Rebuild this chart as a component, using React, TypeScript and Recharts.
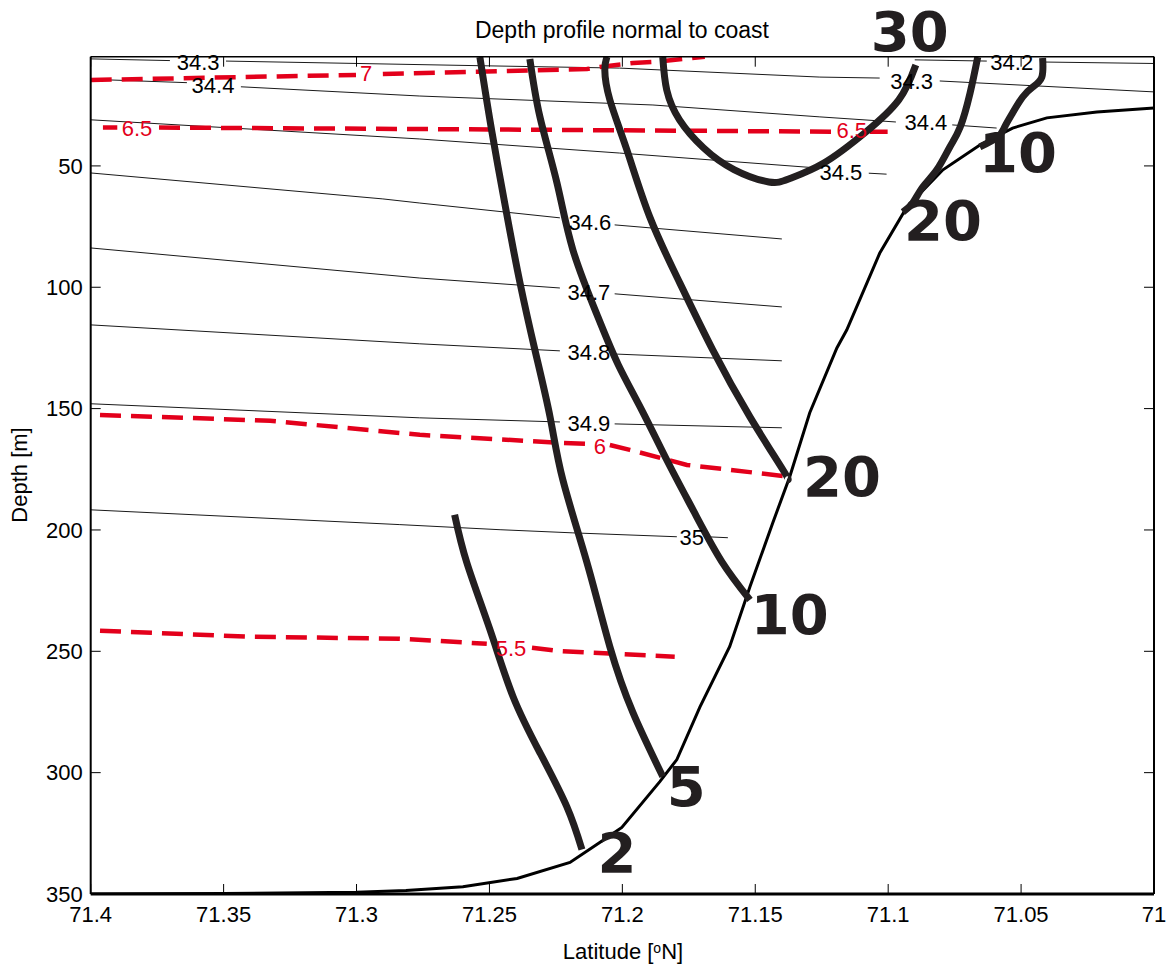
import {
  ComposedChart,
  Line,
  ReferenceDot,
  XAxis,
  YAxis,
} from "recharts";

type Pt = [number, number]; // [latitude, depth]

const LAT_TICKS = [71.4, 71.35, 71.3, 71.25, 71.2, 71.15, 71.1, 71.05, 71];
const DEPTH_TICKS = [50, 100, 150, 200, 250, 300, 350];

// sea floor
const seabed: Pt[] = [
  [71.4, 350], [71.35, 349.8], [71.3, 349.3], [71.2814, 348.6], [71.26, 347],
  [71.2396, 343.6], [71.2197, 337], [71.2085, 328.8], [71.2002, 322.6],
  [71.1859, 303.7], [71.1795, 294.6], [71.1708, 272.9], [71.1596, 248],
  [71.152, 223.4], [71.1434, 197], [71.137, 178], [71.1295, 151.7],
  [71.1193, 125], [71.1156, 117.6], [71.1032, 86], [71.093, 67],
  [71.0794, 51.6], [71.0655, 41.4], [71.0532, 34.4], [71.0403, 30.2],
  [71.0215, 27.8], [71.0, 26.1],
];

// salinity contours (thin), split where the label sits
const sal342: Pt[][] = [
  [[71.09, 6.3], [71.0629, 6.8]],
  [[71.0411, 7.2], [71.0, 7.8]],
];
const sal343: Pt[][] = [
  [[71.4, 5.9], [71.3702, 6.6]],
  [[71.3491, 6.8], [71.2543, 8.7], [71.201, 9.7], [71.1257, 13.4], [71.1032, 13.8]],
  [[71.0806, 15], [71.0, 19.5]],
];
const sal344: Pt[][] = [
  [[71.4, 14.3], [71.3638, 15.7]],
  [[71.3435, 17.4], [71.2762, 21.2], [71.1885, 24.9], [71.1257, 29.8], [71.0971, 31.9]],
  [[71.0759, 33.1], [71.0592, 34.4]],
];
const sal345: Pt[][] = [
  [[71.4, 31], [71.2762, 38.9], [71.201, 44.7], [71.1272, 50.8]],
  [[71.1073, 53], [71.1006, 53.4]],
];
const sal346: Pt[][] = [
  [[71.4, 52.9], [71.2901, 63.6], [71.2762, 65.3], [71.2235, 71.4]],
  [[71.2029, 74.3], [71.14, 80.1]],
];
const sal347: Pt[][] = [
  [[71.4, 83.8], [71.2762, 96.2], [71.2235, 100.3]],
  [[71.2029, 102.7], [71.14, 108.1]],
];
const sal348: Pt[][] = [
  [[71.4, 115.5], [71.2762, 123.3], [71.2235, 126.2]],
  [[71.2029, 127.5], [71.14, 130.3]],
];
const sal349: Pt[][] = [
  [[71.4, 148], [71.2762, 153.8], [71.2235, 155.5]],
  [[71.2029, 156.3], [71.14, 157.9]],
];
const sal350: Pt[][] = [
  [[71.4, 191.7], [71.2837, 197.8], [71.246, 199.9], [71.2186, 201.2], [71.1795, 202.8]],
  [[71.1682, 202.8], [71.1603, 203.2]],
];

// temperature contours (red dashed)
const temp70: Pt[][] = [
  [[71.4, 14.6], [71.3002, 12.5]],
  [[71.2901, 12.1], [71.2133, 10.1], [71.2085, 9.2], [71.196, 7.6], [71.1885, 7.2], [71.169, 5]],
];
const temp65: Pt[][] = [
  [[71.3954, 34.2], [71.39, 34.2]],
  [[71.3743, 34.2], [71.2762, 34.8], [71.12, 35.9]],
  [[71.1069, 35.9], [71.1002, 35.9]],
];
const temp60: Pt[][] = [
  [[71.3965, 152.6], [71.3325, 155], [71.2762, 160.8], [71.2235, 164.1], [71.2122, 164.5]],
  [[71.2047, 165], [71.1972, 167], [71.1757, 173.2], [71.1596, 175.2], [71.137, 178.1]],
];
const temp55: Pt[][] = [
  [[71.3965, 241.5], [71.34, 244], [71.2837, 244.8], [71.251, 246.9]],
  [[71.234, 248.5], [71.2246, 249.8], [71.2111, 250.6], [71.1803, 252.2]],
];

// thick contours
const thick2: Pt[] = [
  [71.2631, 193.7], [71.2585, 213.5], [71.2498, 241.1], [71.2411, 268.7],
  [71.231, 291.8], [71.2209, 314], [71.2152, 331.7],
];
const thick5: Pt[] = [
  [71.2536, 5.1], [71.249, 36.4], [71.2433, 71], [71.2385, 98.2], [71.2329, 125.8],
  [71.2272, 153.4], [71.2224, 179.3], [71.2133, 213.5], [71.2047, 248.1],
  [71.196, 275.3], [71.1848, 301.6],
];
const thick10a: Pt[] = [
  [71.2348, 5.9], [71.231, 29.8], [71.2246, 57], [71.2186, 84.6], [71.2092, 112.2],
  [71.2015, 132], [71.1925, 151], [71.1829, 172], [71.1728, 193],
  [71.1626, 213], [71.152, 228.8],
];
const thick20a: Pt[] = [
  [71.2058, 5], [71.2066, 10.5], [71.2047, 22.8], [71.1983, 43.4], [71.1897, 71],
  [71.1784, 98.2], [71.166, 125.8], [71.152, 153.4], [71.1396, 175.2], [71.1378, 179.3],
];
const thick30: Pt[] = [
  [71.1848, 5.1], [71.1833, 18.7], [71.1785, 31], [71.1695, 42.5], [71.158, 51.5],
  [71.1449, 56.6], [71.137, 55.2], [71.1242, 48.8], [71.1088, 36.4], [71.096, 22.8],
  [71.0896, 8.4],
];
const thick20b: Pt[] = [
  [71.0663, 5.1], [71.0692, 20], [71.0729, 34], [71.0768, 42.2], [71.0817, 51.6],
  [71.087, 58.7], [71.0908, 65.3], [71.0945, 69],
];
const thick10b: Pt[] = [
  [71.0419, 5.5], [71.0422, 13.4], [71.0456, 17.5], [71.0494, 21.6], [71.0532, 28.2],
  [71.0562, 34], [71.0588, 38.1], [71.0655, 42.2],
];

const salinityLabels: [number, number, string][] = [
  [71.3596, 7.2, "34.3"], [71.0912, 15.4, "34.3"], [71.0535, 7.2, "34.2"],
  [71.354, 16.8, "34.4"], [71.0858, 32.3, "34.4"], [71.1178, 52.9, "34.5"],
  [71.2122, 73.5, "34.6"], [71.2126, 102.3, "34.7"], [71.2126, 127, "34.8"],
  [71.2126, 156.3, "34.9"], [71.1739, 203.2, "35"],
];
const tempLabels: [number, number, string][] = [
  [71.2964, 11.9, "7"], [71.3826, 34.4, "6.5"], [71.1137, 35.6, "6.5"],
  [71.2085, 165.8, "6"], [71.2419, 249, "5.5"],
];
const thickLabels: [number, number, string][] = [
  [71.0919, -5.2, "30"], [71.0512, 44.3, "10"], [71.0794, 72.3, "20"],
  [71.1174, 178, "20"], [71.137, 235, "10"], [71.176, 305.7, "5"], [71.202, 332.9, "2"],
];

const RED = "#e3001b";
const DARK = "#231f20";
const FONT = "'Liberation Sans', Arial, sans-serif";
const X_MARGIN = 12;
const Y_MARGIN = 8;
const TICK_LEN = 10;

const rows = (pts: Pt[]) => pts.map(([lat, depth]) => ({ lat, depth }));

function BottomTick({ x, y, payload }: any) {
  const axisY = y - X_MARGIN;
  return (
    <g>
      <line x1={x} x2={x} y1={axisY} y2={axisY - TICK_LEN} stroke="#000" strokeWidth={1} />
      <text x={x} y={y} dy="0.71em" textAnchor="middle" fontSize={22} fontFamily={FONT} fill="#000">
        {payload.value}
      </text>
    </g>
  );
}

function TopTick({ x, y }: any) {
  return <line x1={x} x2={x} y1={y} y2={y + TICK_LEN} stroke="#000" strokeWidth={1} />;
}

function LeftTick({ x, y, payload }: any) {
  const axisX = x + Y_MARGIN;
  return (
    <g>
      <line x1={axisX} x2={axisX + TICK_LEN} y1={y} y2={y} stroke="#000" strokeWidth={1} />
      <text x={x} y={y} dy="0.355em" textAnchor="end" fontSize={22} fontFamily={FONT} fill="#000">
        {payload.value}
      </text>
    </g>
  );
}

function RightTick({ x, y }: any) {
  return <line x1={x} x2={x - TICK_LEN} y1={y} y2={y} stroke="#000" strokeWidth={1} />;
}

function labelDots(list: [number, number, string][], key: string, style: any) {
  return list.map(([lat, depth, text], i) => (
    <ReferenceDot
      key={`${key}-${i}`}
      x={lat}
      y={depth}
      ifOverflow="visible"
      shape={(p: any) => (
        <text
          x={p.cx}
          y={p.cy}
          textAnchor="middle"
          dominantBaseline="central"
          {...style}
        >
          {text}
        </text>
      )}
    />
  ));
}

export default function App() {
  const thin = [sal342, sal343, sal344, sal345, sal346, sal347, sal348, sal349, sal350];
  const temps = [temp70, temp65, temp60, temp55];
  const thick = [thick2, thick5, thick10a, thick20a, thick30, thick20b, thick10b];

  return (
    <div style={{ position: "absolute", left: 0, top: 0, width: 1168, height: 966, fontFamily: FONT, background: "#fff" }}>
      <div style={{ position: "absolute", left: 322, top: 19, width: 600, textAlign: "center", fontSize: 23, lineHeight: "23px" }}>
        Depth profile normal to coast
      </div>
      <div style={{ position: "absolute", left: 423, top: 941, width: 400, textAlign: "center", fontSize: 22, lineHeight: "22px" }}>
        Latitude [<sup style={{ fontSize: 14, verticalAlign: "top", lineHeight: "14px" }}>o</sup>N]
      </div>
      <div
        style={{
          position: "absolute",
          left: -80,
          top: 464,
          width: 200,
          height: 22,
          textAlign: "center",
          fontSize: 22,
          lineHeight: "22px",
          transform: "rotate(-90deg)",
        }}
      >
        Depth [m]
      </div>

      <ComposedChart width={1168} height={966} margin={{ top: 55.7, right: 13, bottom: 12, left: 10.7 }}>
        <XAxis
          dataKey="lat"
          type="number"
          domain={[71, 71.4]}
          reversed
          allowDataOverflow
          ticks={LAT_TICKS}
          interval={0}
          height={60}
          tickSize={0}
          tickMargin={X_MARGIN}
          tickLine={false}
          axisLine={{ stroke: "#000", strokeWidth: 3 }}
          tick={<BottomTick />}
        />
        <XAxis
          xAxisId="top"
          orientation="top"
          dataKey="lat"
          type="number"
          domain={[71, 71.4]}
          reversed
          allowDataOverflow
          ticks={LAT_TICKS}
          interval={0}
          height={1}
          tickSize={0}
          tickMargin={0}
          tickLine={false}
          axisLine={{ stroke: "#000", strokeWidth: 1.5 }}
          tick={<TopTick />}
        />
        <YAxis
          type="number"
          domain={[5, 350]}
          reversed
          allowDataOverflow
          ticks={DEPTH_TICKS}
          interval={0}
          width={80}
          tickSize={0}
          tickMargin={Y_MARGIN}
          tickLine={false}
          axisLine={{ stroke: "#000", strokeWidth: 2 }}
          tick={<LeftTick />}
        />
        <YAxis
          yAxisId="right"
          orientation="right"
          type="number"
          domain={[5, 350]}
          reversed
          allowDataOverflow
          ticks={DEPTH_TICKS}
          interval={0}
          width={1}
          tickSize={0}
          tickMargin={0}
          tickLine={false}
          axisLine={{ stroke: "#000", strokeWidth: 2 }}
          tick={<RightTick />}
        />

        {thin.flatMap((segs, i) =>
          segs.map((seg, j) => (
            <Line
              key={`s-${i}-${j}`}
              data={rows(seg)}
              dataKey="depth"
              type="linear"
              stroke="#1a1a1a"
              strokeWidth={1}
              dot={false}
              activeDot={false}
              legendType="none"
              isAnimationActive={false}
            />
          ))
        )}

        {temps.flatMap((segs, i) =>
          segs.map((seg, j) => (
            <Line
              key={`t-${i}-${j}`}
              data={rows(seg)}
              dataKey="depth"
              type="linear"
              stroke={RED}
              strokeWidth={4.5}
              strokeDasharray="21 10"
              dot={false}
              activeDot={false}
              legendType="none"
              isAnimationActive={false}
            />
          ))
        )}

        <Line
          data={rows(seabed)}
          dataKey="depth"
          type="linear"
          stroke="#000"
          strokeWidth={3}
          dot={false}
          activeDot={false}
          legendType="none"
          isAnimationActive={false}
        />

        {thick.map((seg, i) => (
          <Line
            key={`c-${i}`}
            data={rows(seg)}
            dataKey="depth"
            type="natural"
            stroke={DARK}
            strokeWidth={7}
            strokeLinejoin="round"
            dot={false}
            activeDot={false}
            legendType="none"
            isAnimationActive={false}
          />
        ))}

        {labelDots(salinityLabels, "sl", { fontSize: 22, fontFamily: FONT, fill: "#000" })}
        {labelDots(tempLabels, "tl", { fontSize: 22, fontFamily: FONT, fill: RED })}
        {labelDots(thickLabels, "kl", {
          fontSize: 56,
          fontFamily: "'DejaVu Sans', sans-serif",
          fontWeight: "bold",
          fill: DARK,
        })}
      </ComposedChart>
    </div>
  );
}
